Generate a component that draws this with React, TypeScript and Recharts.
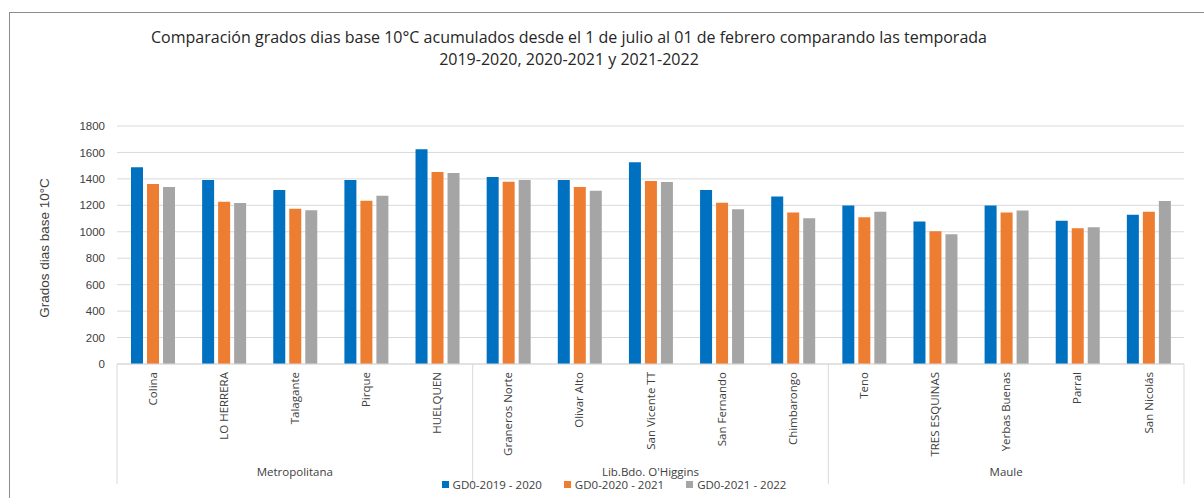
import React from "react";
import {
	Bar,
	BarChart,
	CartesianGrid,
	Legend,
	XAxis,
	YAxis,
} from "recharts";

const stations = [
	"Colina",
	"LO HERRERA",
	"Talagante",
	"Pirque",
	"HUELQUEN",
	"Graneros Norte",
	"Olivar Alto",
	"San Vicente TT",
	"San Fernando",
	"Chimbarongo",
	"Teno",
	"TRES ESQUINAS",
	"Yerbas Buenas",
	"Parral",
	"San Nicolás",
];

const regions = ["Metropolitana", "Lib.Bdo. O'Higgins", "Maule"];
const stationsPerRegion = 5;

const gd2019 = [1488, 1392, 1316, 1392, 1624, 1414, 1392, 1526, 1316, 1266, 1198, 1077, 1198, 1084, 1129];
const gd2020 = [1361, 1228, 1175, 1235, 1452, 1379, 1339, 1384, 1220, 1145, 1110, 1004, 1145, 1026, 1152];
const gd2021 = [1339, 1218, 1162, 1273, 1445, 1392, 1311, 1377, 1170, 1102, 1152, 981, 1160, 1034, 1233];

const yTicks = [0, 200, 400, 600, 800, 1000, 1200, 1400, 1600, 1800];

const seriesNames = ["GD0-2019 - 2020", "GD0-2020 - 2021", "GD0-2021 - 2022"];
const seriesColors = ["#0070C0", "#ED7D31", "#A5A5A5"];

const data = stations.map((name, i) => ({
	name,
	s2019: gd2019[i],
	s2020: gd2020[i],
	s2021: gd2021[i],
}));

const W = 1204;
const H = 498;
const M = { top: 126, right: 20, left: 60, bottom: 0 };
const Y_AXIS_W = 57;
const X_AXIS_H = 134;
const band = (W - M.left - M.right - Y_AXIS_W) / stations.length;
const sepColor = "#d9d9d9";
const txt = "#404040";

const StationTick = (props: any) => {
	const { x, y, payload, index } = props;
	const i = typeof index === "number" ? index : stations.indexOf(payload.value);
	const regionIdx = Math.floor(i / stationsPerRegion);
	return (
		<g>
			<text
				x={x}
				y={y + 8}
				transform={`rotate(-90, ${x}, ${y + 8})`}
				textAnchor="end"
				dy="0.36em"
				fontFamily="Open Sans"
				fontSize={11.5}
				fill={txt}
			>
				{payload.value}
			</text>
			{i % stationsPerRegion === 0 && (
				<line x1={x - band / 2} x2={x - band / 2} y1={y} y2={y + 120} stroke={sepColor} />
			)}
			{i === stations.length - 1 && (
				<line x1={x + band / 2} x2={x + band / 2} y1={y} y2={y + 120} stroke={sepColor} />
			)}
			{i % stationsPerRegion === 2 && (
				<text
					x={x}
					y={y + 108}
					textAnchor="middle"
					dy="0.36em"
					fontFamily="Open Sans"
					fontSize={11.5}
					fill={txt}
				>
					{regions[regionIdx]}
				</text>
			)}
		</g>
	);
};

const LegendContent = () => (
	<div
		style={{
			display: "flex",
			justifyContent: "center",
			gap: 22,
			paddingLeft: 24,
			fontFamily: "Open Sans",
			fontSize: 11.5,
			color: txt,
		}}
	>
		{seriesNames.map((n, i) => (
			<div key={n} style={{ display: "flex", alignItems: "center", gap: 4 }}>
				<span style={{ width: 7, height: 7, background: seriesColors[i], display: "inline-block" }} />
				<span>{n}</span>
			</div>
		))}
	</div>
);

const App = () => {
	return (
		<div
			style={{
				position: "fixed",
				left: 0,
				top: 0,
				width: W,
				height: H,
				background: "#fff",
				overflow: "hidden",
			}}
		>
			<div
				style={{
					position: "absolute",
					left: 9,
					top: 12,
					width: W,
					height: H,
					border: "1px solid #8c8c8c",
				}}
			/>
			<div
				style={{
					position: "absolute",
					left: 0,
					top: 26,
					width: 1138,
					textAlign: "center",
					fontFamily: "Open Sans",
					fontSize: 16,
					lineHeight: "22px",
					color: "#262626",
				}}
			>
				Comparación grados dias base 10°C acumulados desde el 1 de julio al 01 de febrero comparando las temporada
				<br />
				2019-2020, 2020-2021 y 2021-2022
			</div>
			<div style={{ position: "absolute", left: 0, top: 0 }}>
				<BarChart width={W} height={H} data={data} margin={M} barGap={4} barSize={12}>
					<CartesianGrid vertical={false} stroke={sepColor} />
					<XAxis
						dataKey="name"
						interval={0}
						height={X_AXIS_H}
						tickLine={false}
						tickSize={0}
						tickMargin={0}
						axisLine={{ stroke: sepColor }}
						tick={<StationTick />}
					/>
					<YAxis
						width={Y_AXIS_W}
						domain={[0, 1800]}
						ticks={yTicks}
						interval={0}
						axisLine={false}
						tickLine={false}
						tickSize={0}
						tickMargin={12}
						tick={{ fontFamily: "Liberation Sans", fontSize: 11.5, fill: txt }}
						label={{
							content: () => (
								<text
									x={44}
									y={248}
									transform="rotate(-90, 44, 248)"
									textAnchor="middle"
									dy="0.36em"
									fontFamily="Liberation Sans"
									fontSize={13.5}
									fill={txt}
								>
									Grados dias base 10°C
								</text>
							),
						}}
					/>
					<Legend
						layout="horizontal"
						verticalAlign="middle"
						align="center"
						content={<LegendContent />}
						wrapperStyle={{ position: "absolute", top: 477, left: 0, width: W }}
					/>
					<Bar dataKey="s2019" name={seriesNames[0]} fill={seriesColors[0]} isAnimationActive={false} />
					<Bar dataKey="s2020" name={seriesNames[1]} fill={seriesColors[1]} isAnimationActive={false} />
					<Bar dataKey="s2021" name={seriesNames[2]} fill={seriesColors[2]} isAnimationActive={false} />
				</BarChart>
			</div>
		</div>
	);
};

export default App;
